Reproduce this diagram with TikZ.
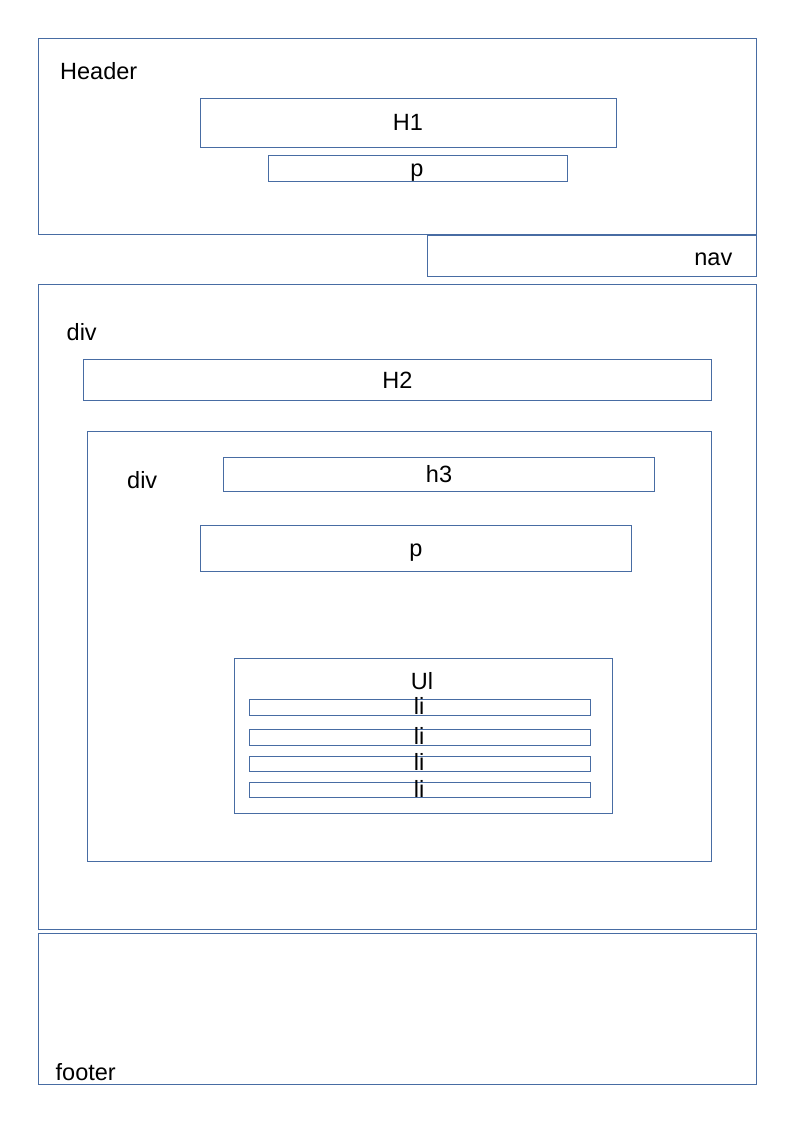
\documentclass[tikz,border=0pt]{standalone}
\usepackage{fontspec}
\setmainfont{Liberation Sans}
\definecolor{frame}{RGB}{72,108,163}
\begin{document}
\begin{tikzpicture}[x=1pt,y=-1pt,
  box/.style={draw=frame,line width=0.9pt,inner sep=0pt,anchor=north west},
  lbl/.style={inner sep=0pt,font=\fontsize{23.5}{28}\selectfont,text=black}]
\useasboundingbox[fill=white] (0,0) rectangle (794,1123);
% boxes: corner, width x height in pixels
\newcommand\pagebox[5]{\node[box,minimum width=#4pt,minimum height=#5pt] (#1) at (#2,#3) {};}
\pagebox{header}{38}{38}{718}{196}
\pagebox{hone}{200}{98}{416}{49}
\pagebox{hp}{268}{155}{299}{26}
\pagebox{nav}{427}{235}{329}{41}
\pagebox{main}{38}{284}{718}{645}
\pagebox{htwo}{83}{359}{628}{41}
\pagebox{inner}{87}{431}{624}{430}
\pagebox{hthree}{223}{457}{431}{34}
\pagebox{ip}{200}{525}{431}{46}
\pagebox{ul}{234}{658}{378}{155}
\pagebox{lione}{249}{699}{341}{16}
\pagebox{litwo}{249}{729}{341}{16}
\pagebox{lithree}{249}{756}{341}{15}
\pagebox{lifour}{249}{782}{341}{15}
\pagebox{footer}{38}{933}{718}{151}
% labels
\node[lbl,anchor=base west] (tHeader) at (60,79.3) {Header};
\node[lbl,anchor=base] (tHone) at (408,130.7) {H1};
\node[lbl,anchor=base] (tHp) at (417,176.5) {p};
\node[lbl,anchor=base east] (tNav) at (732.5,265.7) {nav};
\node[lbl,anchor=base west] (tDivA) at (66.5,340) {div};
\node[lbl,anchor=base] (tHtwo) at (397.5,388.3) {H2};
\node[lbl,anchor=base west] (tDivB) at (127,488.3) {div};
\node[lbl,anchor=base] (tHthree) at (439,482.7) {h3};
\node[lbl,anchor=base] (tIp) at (416,556.5) {p};
\node[lbl,anchor=base] (tUl) at (422,689) {Ul};
\node[lbl,anchor=base] (tLiA) at (419,714) {li};
\node[lbl,anchor=base] (tLiB) at (419,744.3) {li};
\node[lbl,anchor=base] (tLiC) at (419,770.7) {li};
\node[lbl,anchor=base] (tLiD) at (419,797.3) {li};
\node[lbl,anchor=base west] (tFooter) at (55.5,1080.5) {footer};
\end{tikzpicture}
\end{document}
